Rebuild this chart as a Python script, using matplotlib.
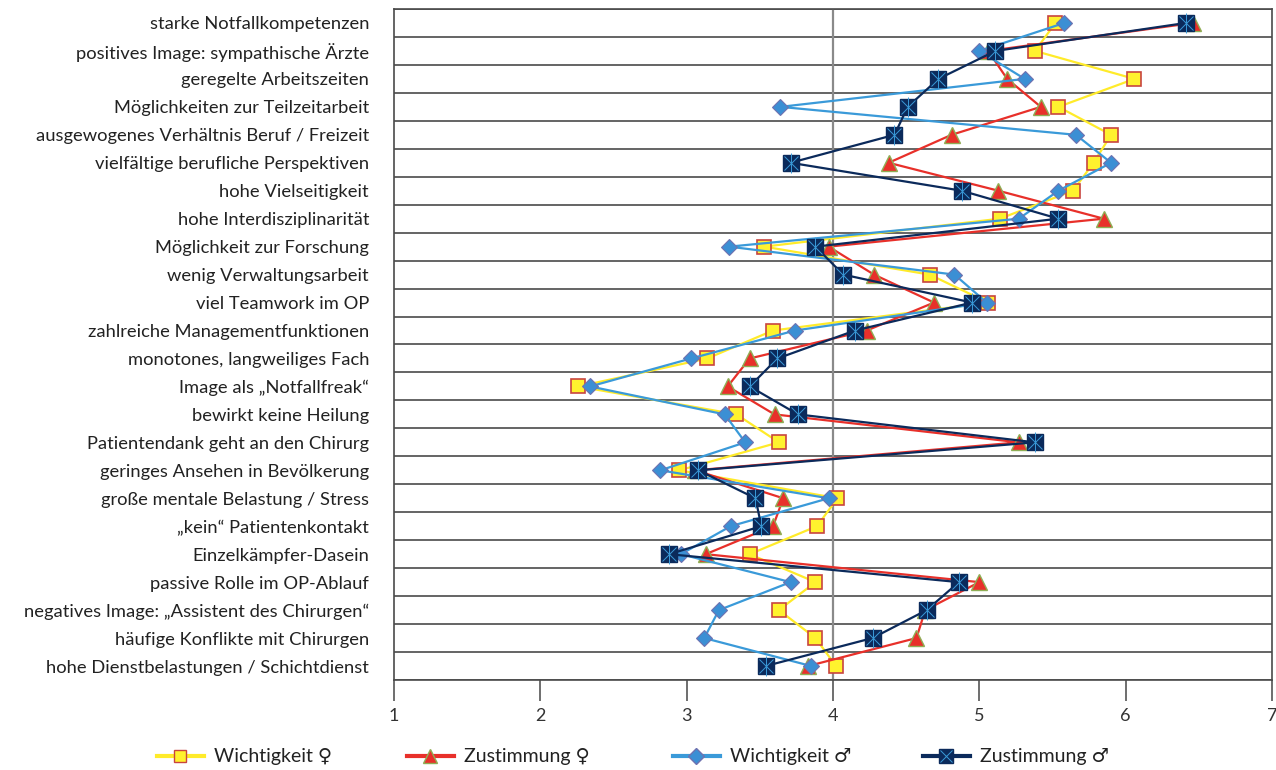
import matplotlib
matplotlib.use("Agg")
import matplotlib.pyplot as plt
from matplotlib.lines import Line2D

plt.rcParams['font.family'] = ['Lato', 'DejaVu Sans']

# Kategorien von oben nach unten
kategorien = [
    "starke Notfallkompetenzen",
    "positives Image: sympathische Ärzte",
    "geregelte Arbeitszeiten",
    "Möglichkeiten zur Teilzeitarbeit",
    "ausgewogenes Verhältnis Beruf / Freizeit",
    "vielfältige berufliche Perspektiven",
    "hohe Vielseitigkeit",
    "hohe Interdisziplinarität",
    "Möglichkeit zur Forschung",
    "wenig Verwaltungsarbeit",
    "viel Teamwork im OP",
    "zahlreiche Managementfunktionen",
    "monotones, langweiliges Fach",
    "Image als „Notfallfreak“",
    "bewirkt keine Heilung",
    "Patientendank geht an den Chirurg",
    "geringes Ansehen in Bevölkerung",
    "große mentale Belastung / Stress",
    "„kein“ Patientenkontakt",
    "Einzelkämpfer-Dasein",
    "passive Rolle im OP-Ablauf",
    "negatives Image: „Assistent des Chirurgen“",
    "häufige Konflikte mit Chirurgen",
    "hohe Dienstbelastungen / Schichtdienst",
]

wichtigkeit_w = [5.52, 5.38, 6.06, 5.54, 5.90, 5.78, 5.64, 5.14, 3.53, 4.66, 5.06, 3.59,
                 3.14, 2.26, 3.34, 3.63, 2.95, 4.03, 3.89, 3.43, 3.88, 3.63, 3.88, 4.02]
zustimmung_w = [6.46, 5.06, 5.19, 5.42, 4.81, 4.38, 5.13, 5.85, 3.97, 4.28, 4.69, 4.23,
                3.43, 3.28, 3.60, 5.27, 3.06, 3.66, 3.59, 3.13, 5.00, 4.63, 4.57, 3.83]
wichtigkeit_m = [5.58, 5.00, 5.31, 3.64, 5.66, 5.90, 5.54, 5.27, 3.29, 4.83, 5.05, 3.74,
                 3.03, 2.34, 3.26, 3.40, 2.82, 3.97, 3.30, 2.96, 3.71, 3.22, 3.12, 3.85]
zustimmung_m = [6.41, 5.11, 4.72, 4.51, 4.42, 3.71, 4.88, 5.54, 3.88, 4.07, 4.95, 4.15,
                3.62, 3.43, 3.76, 5.38, 3.08, 3.47, 3.51, 2.88, 4.86, 4.64, 4.27, 3.54]

pos = list(range(len(kategorien)))

fig = plt.figure(figsize=(12.76, 7.70), dpi=100)
ax = fig.add_axes([0.3088, 0.1169, 0.6881, 0.8714])

# Zeilenraster zwischen den Kategorien
for k in range(len(kategorien) + 1):
    ax.axhline(k - 0.5, color='#4a4a4a', lw=1.2, zorder=1)
ax.axvline(4, color='#8a8a8a', lw=1.6, zorder=1)

ax.plot(wichtigkeit_w, pos, color='#FFEB2A', lw=1.6, marker='s', ms=10,
        mfc='#FFF22E', mec='#C8453F', mew=1.2, zorder=3)
ax.plot(zustimmung_w, pos, color='#E8302A', lw=1.6, marker='^', ms=11,
        mfc='#E8302A', mec='#8FAE55', mew=1.0, zorder=4)
ax.plot(wichtigkeit_m, pos, color='#3A9AD9', lw=1.6, marker='D', ms=8.5,
        mfc='#3B8FD4', mec='#6F72B0', mew=0.8, zorder=5)
ax.plot(zustimmung_m, pos, color='#0B2A5B', lw=1.6, marker='s', ms=11,
        mfc='#0B2A5B', mec='#0B2A5B', zorder=6)
ax.plot(zustimmung_m, pos, ls='none', marker='x', ms=10, mec='#3A9AD9', mew=0.7, zorder=7)
ax.plot(zustimmung_m, pos, ls='none', marker='|', ms=14, mec='#3A9AD9', mew=0.7, zorder=7)

ax.set_xlim(1, 7)
ax.set_ylim(len(kategorien) - 0.5, -0.5)
ax.set_yticks(pos)
ax.set_yticklabels(kategorien, fontsize=13.2, color='#222222')
ax.tick_params(axis='y', length=0, pad=18)
ax.set_xticks(range(1, 8))
ax.tick_params(axis='x', direction='out', length=15, width=1.2, color='#555555',
               labelsize=13, pad=5, labelcolor='#333333')
for s in ax.spines.values():
    s.set_color('#4a4a4a')
    s.set_linewidth(1.2)

handles = [
    Line2D([], [], color='#FFEB2A', lw=3, marker='s', ms=9, mfc='#FFF22E', mec='#C8453F'),
    Line2D([], [], color='#E8302A', lw=3, marker='^', ms=10, mfc='#E8302A', mec='#8FAE55'),
    Line2D([], [], color='#3A9AD9', lw=3, marker='D', ms=8, mfc='#3B8FD4', mec='#6F72B0'),
    (Line2D([], [], color='#0B2A5B', lw=3, marker='s', ms=10, mfc='#0B2A5B', mec='#0B2A5B'),
     Line2D([], [], ls='none', marker='x', ms=9, mec='#3A9AD9', mew=0.7)),
]
labels = ["Wichtigkeit ♀", "Zustimmung ♀", "Wichtigkeit ♂", "Zustimmung ♂"]
# Legendeneinträge in festen Feldern nebeneinander
slots = [157, 407, 673, 923]
for h, lab, x0 in zip(handles, labels, slots):
    fig.legend([h], [lab], loc='center left', bbox_to_anchor=(x0 / 1276, 0.017),
               frameon=False, fontsize=14, handlelength=2.4, handletextpad=0.55,
               borderpad=0, borderaxespad=0, labelcolor='#222222')

fig.savefig("out.png", dpi=100)
